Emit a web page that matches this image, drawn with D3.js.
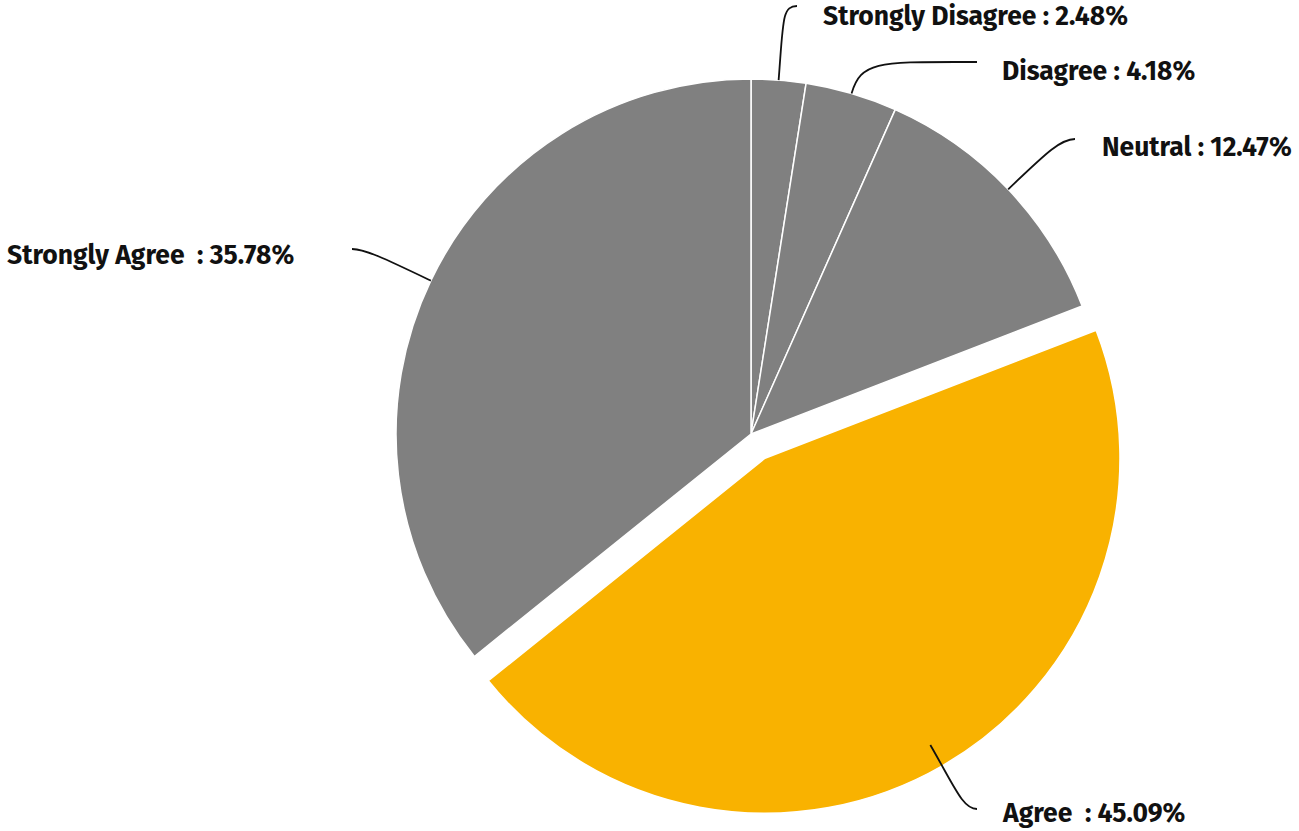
<!DOCTYPE html>
<html>
<head>
<meta charset="utf-8">
<script src="https://cdn.jsdelivr.net/npm/d3@7"></script>
<style>
  html, body { margin: 0; padding: 0; background: #fff; }
  svg { display: block; }
  .lbl { font-family: "Fira Sans", Lato, "Open Sans", sans-serif; font-weight: 700; font-size: 26.5px; fill: #111; white-space: pre; }
</style>
</head>
<body>
<svg id="chart" width="1299" height="831"></svg>
<script>
// ---- data ----
const categories = ["Strongly Disagree", "Disagree", "Neutral", "Agree", "Strongly Agree"];
const values = [2.48, 4.18, 12.47, 45.09, 35.78];
const labelTexts = ["Strongly Disagree : 2.48%", "Disagree : 4.18%", "Neutral : 12.47%", "Agree  : 45.09%", "Strongly Agree  : 35.78%"];
const highlighted = ["Agree"];

// ---- layout (not data) ----
const W = 1299, H = 831;
const cx = 751, cy = 434, R = 355, explode = 28;
const colors = { base: "#808080", hi: "#F9B200" };
// label anchor: text start x, baseline y, leader end point, leader start radius, radial handle, horizontal handle
const labelLayout = [
  { tx: 823, ty: 25, ex: 797, ey: 6,   r0: 355, h1: 60, h2: 15 },
  { tx: 1002, ty: 80, ex: 977, ey: 62, r0: 355, h1: 35, h2: 97 },
  { tx: 1102, ty: 156, ex: 1075, ey: 139, r0: 355, h1: 50, h2: 15 },
  { tx: 1003, ty: 822, ex: 977, ey: 809, r0: 331, h1: 50, h2: 14 },
  { tx: 7, ty: 264, ex: 352, ey: 249, r0: 355, h1: 50, h2: -13 }
];

const svg = d3.select("#chart");
const pie = d3.pie().sort(null).value(d => d.v);
const arcs = pie(categories.map((c, i) => ({ c, v: values[i], i })));
const arc = d3.arc().innerRadius(0).outerRadius(R);

function offsetFor(a) {
  if (!highlighted.includes(a.data.c)) return [0, 0];
  const m = (a.startAngle + a.endAngle) / 2;
  return [explode * Math.sin(m), -explode * Math.cos(m)];
}

const g = svg.append("g").attr("transform", `translate(${cx},${cy})`);
g.selectAll("path.slice").data(arcs).enter().append("path")
  .attr("class", "slice")
  .attr("transform", d => { const o = offsetFor(d); return `translate(${o[0]},${o[1]})`; })
  .attr("d", arc)
  .attr("fill", d => highlighted.includes(d.data.c) ? colors.hi : colors.base)
  .attr("stroke", "#fff")
  .attr("stroke-width", 1.5)
  .attr("stroke-linejoin", "round");

// leaders
arcs.forEach((a, i) => {
  const L = labelLayout[i];
  const o = offsetFor(a);
  const m = (a.startAngle + a.endAngle) / 2;
  const ux = Math.sin(m), uy = -Math.cos(m);
  const sx = cx + o[0] + L.r0 * ux, sy = cy + o[1] + L.r0 * uy;
  const c1x = sx + L.h1 * ux, c1y = sy + L.h1 * uy;
  const c2x = L.ex - L.h2, c2y = L.ey;
  const p = d3.path();
  p.moveTo(sx, sy);
  p.bezierCurveTo(c1x, c1y, c2x, c2y, L.ex, L.ey);
  svg.append("path").attr("d", p.toString())
    .attr("fill", "none").attr("stroke", "#111").attr("stroke-width", 1.8);
  svg.append("text").attr("class", "lbl")
    .attr("x", L.tx).attr("y", L.ty)
    .attr("xml:space", "preserve")
    .text(labelTexts[i]);
});
</script>
</body>
</html>
